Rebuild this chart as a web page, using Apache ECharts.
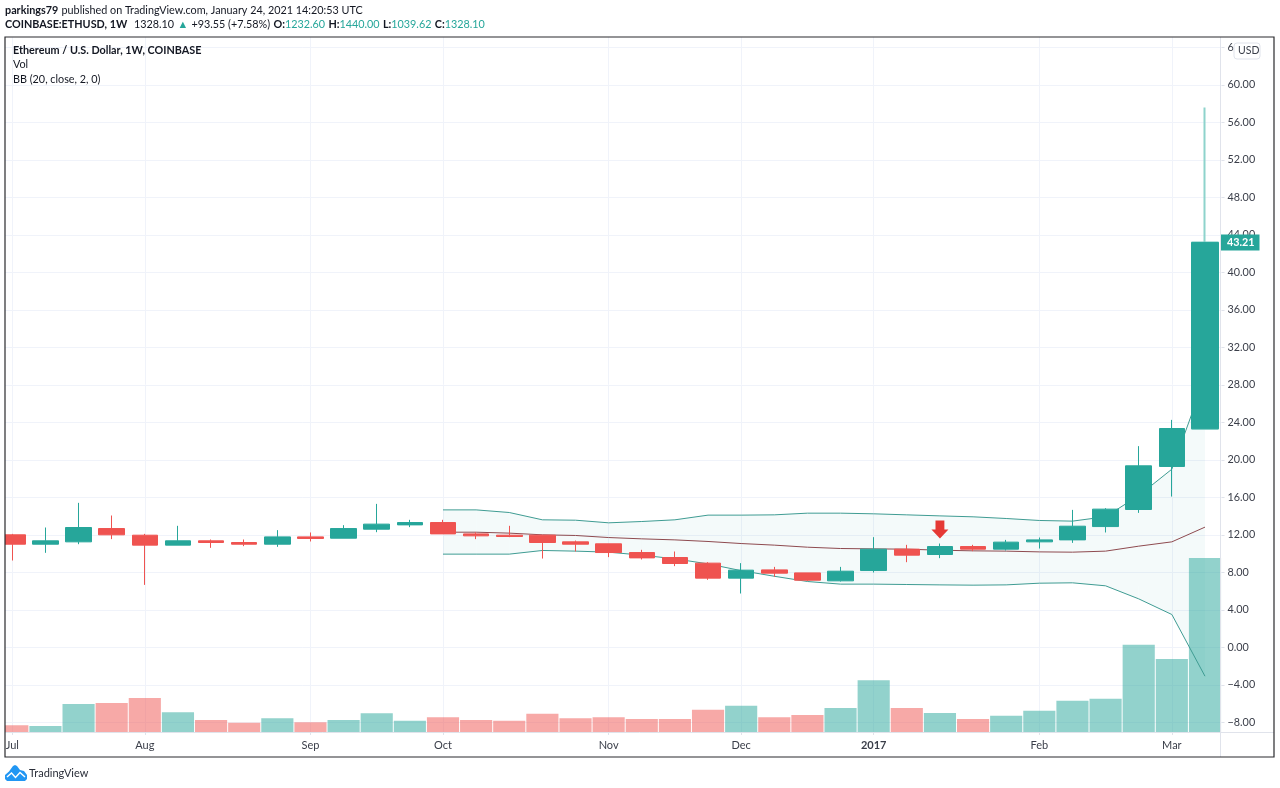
<!DOCTYPE html>
<html><head><meta charset="utf-8">
<script src="https://cdn.jsdelivr.net/npm/echarts@6/dist/echarts.min.js"></script>
<style>html,body{margin:0;padding:0;background:#fff;overflow:hidden;width:1280px;height:788px}#c{position:absolute;left:-10px;top:0;width:1290px;height:788px}</style>
</head><body><div id="c"></div>
<script>
const weeks = ['2016-07-04','2016-07-11','2016-07-18','2016-07-25','2016-08-01','2016-08-08','2016-08-15','2016-08-22','2016-08-29','2016-09-05','2016-09-12','2016-09-19','2016-09-26','2016-10-03','2016-10-10','2016-10-17','2016-10-24','2016-10-31','2016-11-07','2016-11-14','2016-11-21','2016-11-28','2016-12-05','2016-12-12','2016-12-19','2016-12-26','2017-01-02','2017-01-09','2017-01-16','2017-01-23','2017-01-30','2017-02-06','2017-02-13','2017-02-20','2017-02-27','2017-03-06','2017-03-13'];
const monthLabels = {'2016-07-04':'Jul','2016-08-01':'Aug','2016-09-05':'Sep','2016-10-03':'Oct','2016-11-07':'Nov','2016-12-05':'Dec','2017-01-02':'2017','2017-02-06':'Feb','2017-03-06':'Mar'};
const opens  = [12.02,11.02,11.27,12.69,11.98,10.92,11.38,11.20,11.02,11.80,11.66,12.62,13.08,13.33,12.12,11.98,11.98,11.27,11.06,10.13,9.60,9.00,7.40,8.28,7.96,7.11,8.21,10.49,9.92,10.77,10.49,11.27,11.48,12.90,14.72,19.31,23.33];
const closes = [11.02,11.38,12.80,12.02,10.92,11.38,11.20,11.02,11.80,11.63,12.69,13.16,13.33,12.12,11.91,11.84,11.20,11.02,10.13,9.56,8.96,7.40,8.25,7.93,7.18,8.14,10.49,9.85,10.77,10.49,11.24,11.48,12.94,14.76,19.38,23.36,43.21];
const highs  = [12.12,12.80,15.43,14.08,12.12,12.98,11.52,11.52,12.52,12.27,13.05,15.32,13.62,13.62,12.30,12.98,11.98,11.41,11.06,10.42,10.24,9.10,9.00,8.60,7.96,8.60,11.77,10.95,11.09,10.95,11.48,11.73,14.68,14.86,21.48,24.28,57.60];
const lows   = [9.28,10.10,11.02,11.56,6.68,10.92,10.63,10.81,10.74,11.31,11.66,12.30,12.84,12.12,11.56,11.77,9.49,10.24,9.64,9.39,8.68,7.22,5.76,7.54,7.08,7.04,8.00,9.10,9.53,10.28,10.35,10.56,11.16,12.27,14.36,16.10,23.33];
const volumes = [6.7,6,28,29,34,19.7,12,9.3,13.7,9.7,12,18.7,11.3,14.7,12,11.3,18.3,13.7,14.7,13,13,22.3,26.3,14.7,17,24,51.7,24,19,13,16.3,21.3,31.3,33.3,87.3,73,174];
const bandStart = 13;
const bbUpper = [14.68,14.68,14.40,13.62,13.58,13.30,13.44,13.62,14.12,14.12,14.15,14.33,14.33,14.26,14.15,14.04,13.94,13.76,13.55,13.48,13.95,16.20,19.02,28.80];
const bbBasis = [12.30,12.30,12.20,12.02,11.95,11.73,11.59,11.48,11.31,11.09,10.92,10.70,10.56,10.52,10.49,10.38,10.31,10.28,10.20,10.17,10.28,10.81,11.27,12.84];
const bbLower = [9.96,9.96,9.96,10.35,10.28,10.17,9.85,9.46,8.92,8.20,7.60,7.04,6.76,6.76,6.72,6.68,6.65,6.68,6.86,6.90,6.58,5.19,3.52,-3.06];
const arrowWeek = 28, arrowLevel = 12.6;
const lastPrice = 43.21;

const UP='#26a69a', DOWN='#ef5350', GRID='#f0f3fa', EDGE='#e0e3eb', BAND='#3f9c93', FONT='Lato,"Noto Sans",sans-serif', AX='#3a3e49';
const pad = a => weeks.map((_,i)=> i<bandStart ? null : a[i-bandStart]);
const last = weeks.length-1;
const gridX = {left:5.74, width:1225.8};
const chart = echarts.init(document.getElementById('c'),null,{renderer:'canvas'});

const option = {
  animation:false,
  backgroundColor:'#fff',
  textStyle:{fontFamily:FONT},
  grid:[
    Object.assign({top:47.5,height:675},gridX),
    Object.assign({top:37,height:695},gridX)
  ],
  xAxis:[
    {type:'category',gridIndex:0,data:weeks,boundaryGap:true,axisLine:{show:false},axisTick:{show:false},axisLabel:{show:false},splitLine:{show:false}},
    {type:'category',gridIndex:1,data:weeks,boundaryGap:true,
      axisLine:{show:false},
      axisTick:{show:true,alignWithLabel:true,length:3,lineStyle:{color:EDGE},interval:(i,v)=>!!monthLabels[v]},
      splitLine:{show:true,alignWithLabel:true,lineStyle:{color:GRID,width:1},interval:(i,v)=>!!monthLabels[v]},
      axisLabel:{show:true,interval:0,margin:8,color:AX,fontSize:11,fontFamily:FONT,
        formatter:v=>{const m=monthLabels[v]; if(!m) return ''; return m==='2017'?'{b|2017}':m;},
        rich:{b:{fontWeight:'bold',fontSize:11,color:AX,fontFamily:FONT}}}
    }
  ],
  yAxis:[
    {type:'value',gridIndex:0,min:-8,max:64,interval:4,position:'right',
      axisLine:{show:false},axisTick:{show:true,length:3,lineStyle:{color:EDGE}},
      splitLine:{show:true,lineStyle:{color:GRID,width:1}},
      axisLabel:{margin:6,color:AX,fontSize:10.8,fontFamily:FONT,showMinLabel:true,showMaxLabel:true,
        formatter:v=>(v<0?'\u2212':'')+Math.abs(v).toFixed(2)}},
    {type:'value',gridIndex:1,min:0,max:695,show:false}
  ],
  series:[
    {name:'BB fill',type:'custom',xAxisIndex:0,yAxisIndex:0,z:1,silent:true,clip:false,
      data:bbUpper.map((u,i)=>[i+bandStart,u,bbLower[i]]),
      encode:{x:0,y:[1,2]},
      renderItem:(params,api)=>{
        const i=params.dataIndex;
        if(i>=bbUpper.length-1) return null;
        const x0=i+bandStart,x1=x0+1;
        return {type:'polygon',shape:{points:[api.coord([x0,bbUpper[i]]),api.coord([x1,bbUpper[i+1]]),api.coord([x1,bbLower[i+1]]),api.coord([x0,bbLower[i]])]},
          style:{fill:'rgba(38,166,154,0.05)',stroke:null},silent:true};
      }},
    {name:'Vol',type:'bar',xAxisIndex:1,yAxisIndex:1,z:2,barWidth:'97%',silent:true,
      data:volumes.map((v,i)=>({value:v,itemStyle:{color:closes[i]>=opens[i]?'rgba(38,166,154,0.5)':'rgba(239,83,80,0.5)'}}))},
    {name:'Upper',type:'line',xAxisIndex:0,yAxisIndex:0,z:3,data:pad(bbUpper),symbol:'none',silent:true,lineStyle:{color:BAND,width:1}},
    {name:'Lower',type:'line',xAxisIndex:0,yAxisIndex:0,z:3,data:pad(bbLower),symbol:'none',silent:true,lineStyle:{color:BAND,width:1}},
    {name:'Basis',type:'line',xAxisIndex:0,yAxisIndex:0,z:3,data:pad(bbBasis),symbol:'none',silent:true,lineStyle:{color:'#8e4a4f',width:1}},
    {name:'ETHUSD',type:'candlestick',xAxisIndex:0,yAxisIndex:0,z:4,barWidth:26,silent:true,
      itemStyle:{color:UP,color0:DOWN,borderColor:UP,borderColor0:DOWN,borderWidth:1},
      data:weeks.map((_,i)=>{
        const row=[opens[i],closes[i],lows[i],highs[i]];
        return i===last?{value:row,itemStyle:{borderColor:'#8ed3cc',borderWidth:2}}:row;
      })},
    {name:'last body',type:'candlestick',xAxisIndex:0,yAxisIndex:0,z:5,barWidth:27,silent:true,
      itemStyle:{color:UP,color0:DOWN,borderColor:UP,borderColor0:DOWN,borderWidth:1},
      data:weeks.map((_,i)=> i===last?[opens[i],closes[i],lows[i],closes[i]]:['-','-','-','-'])},
    {name:'arrow',type:'scatter',xAxisIndex:0,yAxisIndex:0,z:6,silent:true,
      symbol:'path://M4.3,0 L13.7,0 L13.7,9 L18,9 L9,18 L0,9 L4.3,9 Z',symbolSize:[17,18],
      itemStyle:{color:'#e53935',opacity:1},
      data:[[arrowWeek,arrowLevel]]}
  ]
};
chart.setOption(option);

const tagY = chart.convertToPixel({yAxisIndex:0},lastPrice);
const S='10.8px '+FONT, B='bold 10.8px '+FONT;
const T=(x,y,text,o)=>({type:'text',x,y,z:200,silent:true,style:Object.assign({text,fill:'#131722',font:S,textVerticalAlign:'middle'},o||{})});
chart.setOption({graphic:{elements:[{type:'group',x:10,y:0,children:[
  {type:'rect',z:100,silent:true,shape:{x:-10,y:0,width:15,height:788},style:{fill:'#fff'}},
  {type:'line',z:100,silent:true,shape:{x1:5,y1:732.5,x2:1274,y2:732.5},style:{stroke:EDGE,lineWidth:1}},
  {type:'line',z:100,silent:true,shape:{x1:1220.5,y1:37,x2:1220.5,y2:757},style:{stroke:EDGE,lineWidth:1}},
  {type:'rect',z:150,silent:true,shape:{x:5,y:37,width:1269,height:720},style:{fill:'none',stroke:'#2a2a2e',lineWidth:1.2}},
  {type:'rect',z:160,silent:true,shape:{x:1234,y:43,width:26,height:16,r:3},style:{fill:'#fff',stroke:EDGE,lineWidth:1}},
  T(1238,51,'USD',{font:'10.5px '+FONT,fill:AX}),
  {type:'rect',z:160,silent:true,shape:{x:1221,y:tagY-8,width:38.5,height:16},style:{fill:UP}},
  T(1227,tagY,lastPrice.toFixed(2),{fill:'#fff',font:'bold 10.8px '+FONT}),
  {type:'text',x:5,y:10.5,z:200,silent:true,style:{textVerticalAlign:'middle',
    text:'{b|parkings79} {n|published on TradingView.com, January 24, 2021 14:20:53 UTC}',
    rich:{b:{font:B,fill:'#131722'},n:{font:S,fill:'#131722'}}}},
  {type:'text',x:5,y:25,z:200,silent:true,style:{textVerticalAlign:'middle',
    text:'{b|COINBASE:ETHUSD, 1W}  {n|1328.10} {g|\u25B2} {n|+93.55 (+7.58%)} {b|O:}{g|1232.60} {b|H:}{g|1440.00} {b|L:}{g|1039.62} {b|C:}{g|1328.10}',
    rich:{b:{font:B,fill:'#131722'},n:{font:S,fill:'#131722'},g:{font:S,fill:UP}}}},
  T(13,51,'Ethereum / U.S. Dollar, 1W, COINBASE',{font:B}),
  T(13,65,'Vol'),
  T(13,80,'BB (20, close, 2, 0)'),
  {type:'polygon',z:200,silent:true,shape:{points:[[5,779],[5,775],[9,771.5],[13,766],[15,765],[17,766],[20,770],[24,771],[27,775],[27,779],[25,781],[7,781]]},style:{fill:'#2196f3'}},
  {type:'polyline',z:201,silent:true,shape:{points:[[7,777],[11.5,773],[15.5,777.5],[20,772.5],[25,777]]},style:{stroke:'#fff',lineWidth:1.4,fill:'none'}},
  T(29,773,'TradingView',{font:'11px '+FONT,fill:'#2a2e39'})
]}]}});
</script></body></html>
